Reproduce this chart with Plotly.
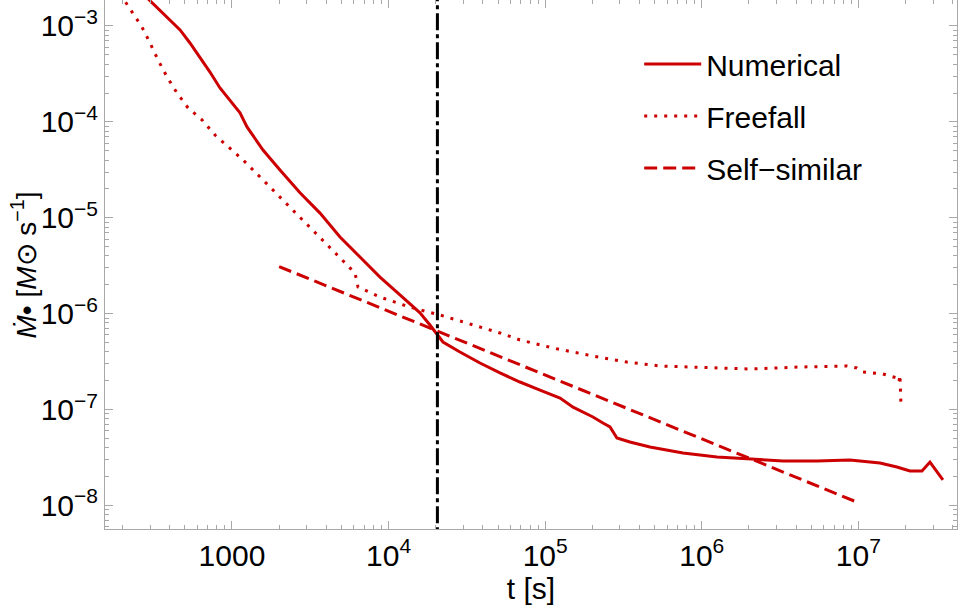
import plotly.graph_objects as go

# Numerical solution
t_num = [255, 295, 347, 402, 466, 539, 625, 723.5, 838, 971, 1125, 1247, 1403, 1578, 2025,
         2718, 3648, 4894, 6566, 8810, 11820, 15870, 18370, 20370, 22250, 28560, 38340,
         51440, 69020, 92660, 124500, 150600, 174300, 201900, 233900, 259400, 287200,
         347500, 466700, 758600, 1.25e6, 2.03e6, 3.30e6, 5.44e6, 8.83e6, 1.374e7,
         1.763e7, 2.136e7, 2.548e7, 2.866e7, 3.467e7]
m_num = [2.37e-3, 1.87e-3, 1.47e-3, 1.155e-3, 9.09e-4, 6.65e-4, 4.75e-4, 3.31e-4, 2.26e-4,
         1.69e-4, 1.24e-4, 8.85e-5, 6.64e-5, 5.09e-5, 3.15e-5, 1.82e-5, 1.12e-5, 6.31e-6,
         3.90e-6, 2.41e-6, 1.57e-6, 1.02e-6, 7.62e-7, 6.14e-7, 5.07e-7, 3.99e-7, 3.06e-7,
         2.41e-7, 1.94e-7, 1.60e-7, 1.32e-7, 1.06e-7, 9.44e-8, 8.37e-8, 7.25e-8, 6.59e-8,
         5.06e-8, 4.59e-8, 4.07e-8, 3.52e-8, 3.21e-8, 3.06e-8, 2.91e-8, 2.91e-8, 2.98e-8,
         2.77e-8, 2.52e-8, 2.29e-8, 2.29e-8, 2.84e-8, 1.85e-8]

# Freefall estimate
t_ff = [193, 210, 230, 266, 299.5, 337, 385, 446, 524, 643, 779, 943, 1176, 1578, 2117,
        2840, 3811, 5114, 6102, 6378, 8810, 13700, 21290, 31670, 51440, 69020, 112200,
        201900, 332800, 540400, 974300, 2.03e6, 4.24e6, 8.45e6, 9.79e6, 1.07e7, 1.435e7,
        1.763e7, 1.816e7, 1.844e7, 1.871e7]
m_ff = [2.16e-3, 1.74e-3, 1.40e-3, 9.77e-4, 6.65e-4, 4.42e-4, 2.94e-4, 2.00e-4, 1.40e-4,
        1.05e-4, 7.30e-5, 5.47e-5, 4.01e-5, 2.48e-5, 1.53e-5, 9.49e-6, 5.87e-6, 3.63e-6,
        2.66e-6, 1.90e-6, 1.49e-6, 1.17e-6, 9.69e-7, 7.99e-7, 6.30e-7, 5.32e-7, 4.39e-7,
        3.62e-7, 3.13e-7, 2.85e-7, 2.78e-7, 2.65e-7, 2.78e-7, 2.85e-7, 2.72e-7, 2.47e-7,
        2.35e-7, 2.14e-7, 1.94e-7, 2.30e-7, 1.12e-7]

# Self-similar power law
t_ss = [2000, 1.0e7]
m_ss = [3.1e-6, 1.07e-8]

# Reference time (vertical line)
t_ref = [2.05e4, 2.05e4]
m_ref = [1e-10, 1e-1]

x_tickvals = [1e3, 1e4, 1e5, 1e6, 1e7]
x_ticktext = ["1000", "10<sup>4</sup>", "10<sup>5</sup>", "10<sup>6</sup>", "10<sup>7</sup>"]
y_tickvals = [1e-8, 1e-7, 1e-6, 1e-5, 1e-4, 1e-3]
y_ticktext = ["10<sup>−8</sup>", "10<sup>−7</sup>", "10<sup>−6</sup>",
              "10<sup>−5</sup>", "10<sup>−4</sup>", "10<sup>−3</sup>"]
y_title = "<i>Ṁ</i>• [<i>M</i>⊙ s<sup>−1</sup>]"
x_title = "t [s]"

x_minor = [m * 10 ** e for e in range(2, 8) for m in range(2, 10)]
y_minor = [m * 10.0 ** e for e in range(-9, -2) for m in range(2, 10)]

RED = "#cc0000"
FONT = "Liberation Sans, Arial, sans-serif"

fig = go.Figure()
fig.add_trace(go.Scatter(x=t_num, y=m_num, mode="lines", name="Numerical",
                         legendgroup="a",
                         line=dict(color=RED, width=3)))
fig.add_trace(go.Scatter(x=t_ff, y=m_ff, mode="lines", name="Freefall",
                         legendgroup="b",
                         line=dict(color=RED, width=3, dash="3px,7px")))
fig.add_trace(go.Scatter(x=t_ss, y=m_ss, mode="lines", name="Self−similar",
                         legendgroup="c",
                         line=dict(color=RED, width=3, dash="13px,6px")))
fig.add_trace(go.Scatter(x=t_ref, y=m_ref, mode="lines", showlegend=False,
                         line=dict(color="black", width=3, dash="17px,4px,4px,4px")))

axis_common = dict(
    type="log", showgrid=False, zeroline=False, showline=True,
    linecolor="#a8a8a8", linewidth=1, mirror="allticks",
    ticks="inside", ticklen=8, tickcolor="#a8a8a8", tickwidth=1,
    tickfont=dict(family=FONT, size=30, color="black"),
)

fig.update_xaxes(**axis_common, range=[2.189, 7.63],
                 tickvals=x_tickvals, ticktext=x_ticktext,
                 minor=dict(tickvals=x_minor, ticks="inside", ticklen=4,
                            tickcolor="#a8a8a8", showgrid=False),
                 title=dict(text=x_title, font=dict(family=FONT, size=30, color="black"),
                            standoff=6))
fig.update_yaxes(**axis_common, range=[-8.245, -2.729],
                 tickvals=y_tickvals, ticktext=y_ticktext,
                 minor=dict(tickvals=y_minor, ticks="inside", ticklen=4,
                            tickcolor="#a8a8a8", showgrid=False))

fig.add_annotation(text=y_title, xref="paper", yref="paper",
                   x=-0.0945, y=0.499, xanchor="center", yanchor="middle",
                   textangle=-90, showarrow=False,
                   font=dict(family=FONT, size=28, color="black"))

fig.update_layout(
    width=960, height=608,
    margin=dict(l=105, r=3, t=0, b=79, autoexpand=False),
    paper_bgcolor="white", plot_bgcolor="white",
    showlegend=True,
    legend=dict(x=0.627, y=0.928, xanchor="left", yanchor="top",
                bgcolor="white", borderwidth=0, itemwidth=57,
                tracegroupgap=10,
                font=dict(family=FONT, size=30, color="black")),
)

fig.write_html("out.html")
